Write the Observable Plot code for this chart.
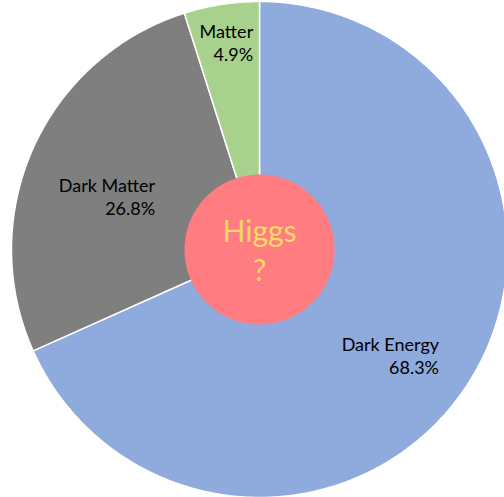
<!DOCTYPE html>
<html>
<head>
<meta charset="utf-8">
<script src="https://cdn.jsdelivr.net/npm/d3@7"></script>
<script src="https://cdn.jsdelivr.net/npm/@observablehq/plot@0.6"></script>
<style>
  html, body { margin: 0; padding: 0; background: #fff; }
  #chart svg { display: block; }
</style>
</head>
<body>
<div id="chart"></div>
<script>
// Composition of the universe (share of total energy density, %)
const components = ["Dark Energy", "Dark Matter", "Matter"];
const shares = [68.3, 26.8, 4.9];
const centerLabel = "Higgs\n?";

// Colours per slice
const sliceColors = ["#8FAADC", "#7F7F7F", "#A9D18E"];

// Label placement: radius fraction at the slice's mid-angle, plus a pixel nudge
const labelLayout = {
  "Dark Energy": {k: 0.68, dx: 38, dy: 14},
  "Dark Matter": {k: 0.62, dx: 36, dy: 9},
  "Matter": {k: 0.85, dx: 26, dy: 1}
};

const innerRadius = 0.3024; // centre disc, as a fraction of the pie radius

// Angles measured clockwise from 12 o'clock
const pie = d3.pie().sort(null).value(d => d.share);
const arcs = pie(components.map((name, i) => ({name, share: shares[i]})));

const polar = (a, r) => [r * Math.sin(a), r * Math.cos(a)];

// Sample each slice outline as a closed polygon in unit coordinates
const slicePoints = arcs.flatMap(a => {
  const n = Math.max(8, Math.ceil((a.endAngle - a.startAngle) / 0.01));
  const pts = [{name: a.data.name, x: 0, y: 0}];
  for (let i = 0; i <= n; i++) {
    const t = a.startAngle + (a.endAngle - a.startAngle) * i / n;
    const [x, y] = polar(t, 1);
    pts.push({name: a.data.name, x, y});
  }
  pts.push({name: a.data.name, x: 0, y: 0});
  return pts;
});

const discPoints = d3.range(0, 361).map(i => {
  const [x, y] = polar(i * Math.PI / 180, innerRadius);
  return {x, y};
});

const labels = arcs.map(a => {
  const L = labelLayout[a.data.name];
  const mid = (a.startAngle + a.endAngle) / 2;
  const [x, y] = polar(mid, L.k);
  return {x, y, dx: L.dx, dy: L.dy, text: `${a.data.name}\n${d3.format(".1f")(a.data.share)}%`};
});

const W = 504, H = 497, cx = 259, cy = 249, R = 248;

const chart = Plot.plot({
  width: W,
  height: H,
  margin: 0,
  x: {domain: [-cx / R, (W - cx) / R], range: [0, W], axis: null},
  y: {domain: [-(H - cy) / R, cy / R], range: [H, 0], axis: null},
  color: {domain: components, range: sliceColors},
  style: {fontFamily: "Lato, 'Open Sans', sans-serif"},
  marks: [
    Plot.line(slicePoints, {
      x: "x", y: "y", z: "name",
      fill: "name", stroke: "white", strokeWidth: 1.5,
      strokeLinejoin: "round", curve: "linear"
    }),
    Plot.line(discPoints, {x: "x", y: "y", fill: "#FF7C80", stroke: "none"}),
    Plot.text([centerLabel], {
      x: () => 0, y: () => 0,
      text: d => d, fill: "#FFD966",
      fontSize: 30, lineHeight: 1.3, textAnchor: "middle"
    }),
    ...labels.map(l => Plot.text([l], {
      x: "x", y: "y", text: "text",
      dx: l.dx, dy: l.dy,
      textAnchor: "end", fill: "#000",
      fontSize: 18, lineHeight: 1.28
    }))
  ]
});

document.getElementById("chart").appendChild(chart);
</script>
</body>
</html>
